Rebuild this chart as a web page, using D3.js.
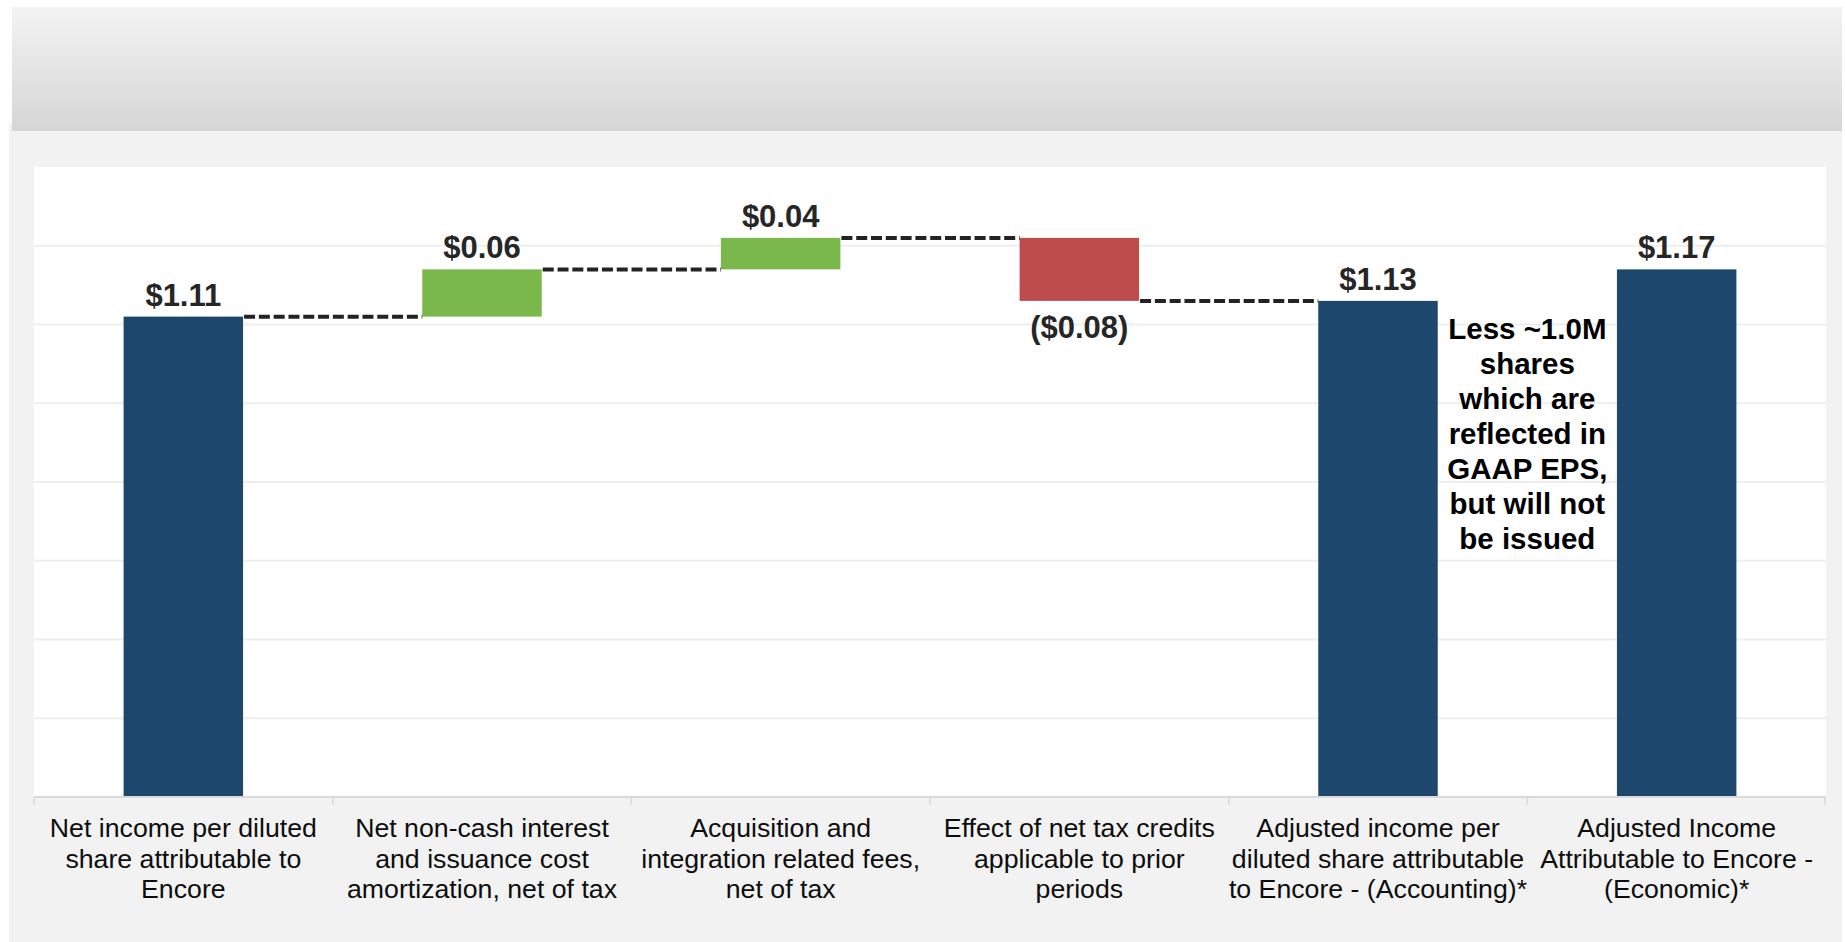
<!DOCTYPE html>
<html>
<head>
<meta charset="utf-8">
<script src="https://cdn.jsdelivr.net/npm/d3@7"></script>
<style>
  html, body { margin: 0; padding: 0; background: #ffffff; }
  svg { display: block; }
  text { font-family: "Liberation Sans", Arial, sans-serif; }
</style>
</head>
<body>
<svg id="chart" width="1845" height="942"></svg>
<script>
// ---------- data ----------
const categories = [
  ["Net income per diluted", "share attributable to", "Encore"],
  ["Net non-cash interest", "and issuance cost", "amortization, net of tax"],
  ["Acquisition and", "integration related fees,", "net of tax"],
  ["Effect of net tax credits", "applicable to prior", "periods"],
  ["Adjusted income per", "diluted share attributable", "to Encore - (Accounting)*"],
  ["Adjusted Income", "Attributable to Encore -", "(Economic)*"]
];
const barTypes = ["total", "increase", "increase", "decrease", "total", "total"];
const values = [1.11, 0.06, 0.04, -0.08, 1.13, 1.17];
const valueLabels = ["$1.11", "$0.06", "$0.04", "($0.08)", "$1.13", "$1.17"];
const gridTicks = [0.6, 0.7, 0.8, 0.9, 1.0, 1.1, 1.2];
const yDomain = [0.5, 1.3];
const annotationLines = ["Less ~1.0M", "shares", "which are", "reflected in", "GAAP EPS,", "but will not", "be issued"];

// ---------- build waterfall ----------
const colors = { total: "#1e476d", increase: "#7ab84c", decrease: "#be4c4c" };
let running = 0;
const bars = values.map((v, i) => {
  let lo, hi;
  if (barTypes[i] === "total") { lo = yDomain[0]; hi = v; running = v; }
  else { const start = running; running = +(running + v).toFixed(4); lo = Math.min(start, running); hi = Math.max(start, running); }
  return { i, lo, hi, end: running, type: barTypes[i], label: valueLabels[i] };
});

const svg = d3.select("#chart");

// background panels
const defs = svg.append("defs");
const grad = defs.append("linearGradient").attr("id", "hdr").attr("x1", 0).attr("x2", 0).attr("y1", 0).attr("y2", 1);
grad.append("stop").attr("offset", "0%").attr("stop-color", "#f3f3f3");
grad.append("stop").attr("offset", "100%").attr("stop-color", "#d6d6d6");

svg.append("rect").attr("x", 9).attr("y", 123).attr("width", 1833).attr("height", 819).attr("fill", "#f2f2f2");
svg.append("rect").attr("x", 12).attr("y", 7).attr("width", 1830).attr("height", 124).attr("fill", "url(#hdr)");

const plot = { left: 34, right: 1826, top: 167, bottom: 797 };
svg.append("rect").attr("x", plot.left).attr("y", plot.top)
  .attr("width", plot.right - plot.left).attr("height", plot.bottom - plot.top).attr("fill", "#ffffff");

const x = d3.scaleBand().domain(d3.range(categories.length))
  .range([plot.left, plot.right]).paddingInner(0.6).paddingOuter(0.3);
const y = d3.scaleLinear().domain(yDomain).range([plot.bottom, plot.top]);

// gridlines
svg.append("g").selectAll("line").data(gridTicks).join("line")
  .attr("x1", plot.left).attr("x2", plot.right)
  .attr("y1", d => y(d)).attr("y2", d => y(d))
  .attr("stroke", "#eeeeee").attr("stroke-width", 2);

// bars
svg.append("g").selectAll("rect").data(bars).join("rect")
  .attr("x", d => x(d.i)).attr("width", x.bandwidth())
  .attr("y", d => y(d.hi)).attr("height", d => y(d.lo) - y(d.hi))
  .attr("fill", d => colors[d.type]);

// connectors
const connectors = bars.slice(0, 4).map(d => ({ x1: x(d.i) + x.bandwidth(), x2: x(d.i + 1), v: d.end }));
svg.append("g").selectAll("line").data(connectors).join("line")
  .attr("x1", d => d.x1 + 1).attr("x2", d => d.x2)
  .attr("y1", d => y(d.v)).attr("y2", d => y(d.v))
  .attr("stroke", "#232323").attr("stroke-width", 4).attr("stroke-dasharray", "11,3.8");

// axis baseline + separators
const step = x.step();
const bounds = d3.range(categories.length + 1).map(k => plot.left + k * step);
svg.append("line").attr("x1", plot.left).attr("x2", plot.right)
  .attr("y1", plot.bottom).attr("y2", plot.bottom).attr("stroke", "#d9d9d9").attr("stroke-width", 2);
svg.append("g").selectAll("line").data(bounds).join("line")
  .attr("x1", d => Math.min(d, plot.right - 1)).attr("x2", d => Math.min(d, plot.right - 1))
  .attr("y1", plot.bottom).attr("y2", plot.bottom + 8)
  .attr("stroke", "#d9d9d9").attr("stroke-width", 1.5);

// category labels
const catG = svg.append("g").selectAll("text").data(categories).join("text")
  .attr("text-anchor", "middle").attr("font-size", 26.7).attr("fill", "#0d0d0d")
  .attr("transform", (d, i) => `translate(${x(i) + x.bandwidth() / 2},837)`);
catG.selectAll("tspan").data(d => d).join("tspan")
  .attr("x", 0).attr("y", (d, j) => j * 30.7).text(d => d);

// value labels
svg.append("g").selectAll("text").data(bars).join("text")
  .attr("text-anchor", "middle").attr("font-size", 31).attr("font-weight", "bold").attr("fill", "#262626")
  .attr("x", d => x(d.i) + x.bandwidth() / 2)
  .attr("y", d => d.type === "decrease" ? y(d.lo) + 37 : y(d.hi) - 11)
  .text(d => d.label);

// annotation
const annX = (x(4) + x.bandwidth() + x(5)) / 2;
svg.append("text").attr("text-anchor", "middle").attr("font-size", 29.5).attr("font-weight", "bold").attr("fill", "#000000")
  .selectAll("tspan").data(annotationLines).join("tspan")
  .attr("x", annX).attr("y", (d, j) => 339 + j * 35).text(d => d);
</script>
</body>
</html>
